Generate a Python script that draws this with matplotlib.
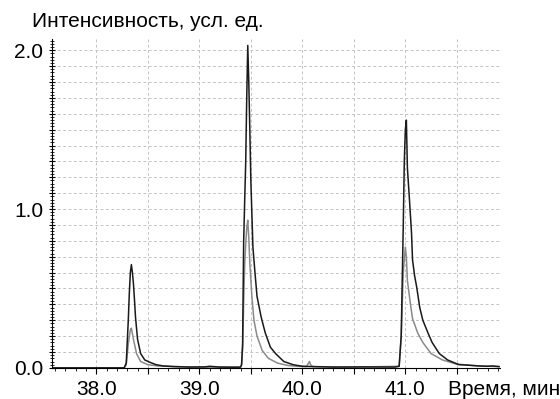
import numpy as np
import matplotlib
matplotlib.use("Agg")
import matplotlib.pyplot as plt
from matplotlib.ticker import MultipleLocator, FuncFormatter

plt.rcParams['font.family'] = ['Liberation Sans', 'DejaVu Sans']

# black trace
black_t = [37.57, 38.00, 38.27, 38.29, 38.31, 38.32, 38.33, 38.34, 38.35, 38.36,
           38.37, 38.38, 38.40, 38.43, 38.47, 38.52, 38.58, 38.65, 38.75, 38.90,
           39.05, 39.10, 39.20, 39.35, 39.40, 39.41, 39.42, 39.43, 39.44, 39.45,
           39.46, 39.47, 39.48, 39.49, 39.50, 39.51, 39.52, 39.54, 39.56, 39.60,
           39.64, 39.69, 39.74, 39.82, 39.91, 40.00, 40.10, 40.30, 40.60, 40.90,
           40.94, 40.96, 40.98, 40.99, 41.00, 41.01, 41.02, 41.04, 41.06, 41.07,
           41.09, 41.11, 41.14, 41.17, 41.22, 41.26, 41.33, 41.41, 41.52, 41.59,
           41.65, 41.72, 41.79, 41.85, 41.91]
black_y = [0.0, 0.0, 0.0, 0.03, 0.30, 0.47, 0.60, 0.65, 0.60, 0.53,
           0.43, 0.32, 0.18, 0.09, 0.05, 0.035, 0.02, 0.012, 0.008, 0.005,
           0.006, 0.01, 0.005, 0.004, 0.005, 0.02, 0.15, 0.79, 1.05, 1.29,
           1.70, 2.03, 1.80, 1.50, 1.18, 0.97, 0.76, 0.60, 0.45, 0.32,
           0.22, 0.13, 0.09, 0.04, 0.02, 0.01, 0.008, 0.005, 0.006, 0.005,
           0.01, 0.20, 0.90, 1.30, 1.50, 1.56, 1.26, 1.06, 0.85, 0.68,
           0.58, 0.51, 0.38, 0.30, 0.22, 0.16, 0.09, 0.05, 0.02, 0.018,
           0.015, 0.012, 0.01, 0.012, 0.008]

# gray trace
gray_t = [37.57, 38.27, 38.29, 38.31, 38.33, 38.34, 38.36, 38.39, 38.43, 38.50,
          38.60, 38.80, 39.00, 39.40, 39.41, 39.42, 39.43, 39.44, 39.45, 39.46,
          39.47, 39.48, 39.49, 39.51, 39.53, 39.56, 39.61, 39.67, 39.76, 39.86,
          39.95, 40.04, 40.06, 40.07, 40.08, 40.10, 40.50, 40.94, 40.96, 40.98,
          41.00, 41.01, 41.02, 41.05, 41.07, 41.12, 41.17, 41.25, 41.36, 41.49,
          41.60, 41.72, 41.82, 41.91]
gray_y = [0.0, 0.0, 0.02, 0.15, 0.24, 0.25, 0.18, 0.09, 0.04, 0.02,
          0.012, 0.008, 0.005, 0.005, 0.02, 0.12, 0.40, 0.65, 0.78, 0.88,
          0.93, 0.82, 0.66, 0.45, 0.30, 0.20, 0.11, 0.06, 0.03, 0.015,
          0.01, 0.008, 0.03, 0.04, 0.02, 0.008, 0.005, 0.01, 0.20, 0.60,
          0.76, 0.70, 0.55, 0.40, 0.31, 0.22, 0.16, 0.09, 0.05, 0.025,
          0.018, 0.012, 0.01, 0.008]

fig = plt.figure(figsize=(5.6, 3.99), dpi=100)
ax = fig.add_axes([0.093, 0.078, 0.80, 0.824])

ax.plot(gray_t, gray_y, color='#8a8a8a', lw=1.1)
ax.plot(black_t, black_y, color='#1a1a1a', lw=1.1)

ax.set_xlim(37.57, 41.92)
ax.set_ylim(0, 2.07)

ax.spines['top'].set_visible(False)
ax.spines['right'].set_visible(False)

ax.xaxis.set_major_locator(MultipleLocator(0.5))
ax.xaxis.set_minor_locator(MultipleLocator(0.1))
ax.yaxis.set_major_locator(MultipleLocator(0.1))
ax.yaxis.set_minor_locator(MultipleLocator(0.02))

def whole_only(v, pos):
    return "%.1f" % v if abs(v - round(v)) < 1e-6 else ""

ax.xaxis.set_major_formatter(FuncFormatter(whole_only))
ax.yaxis.set_major_formatter(FuncFormatter(whole_only))

ax.tick_params(axis='x', which='major', direction='out', length=4, labelsize=15, pad=5)
ax.tick_params(axis='x', which='minor', direction='out', length=2)
ax.tick_params(axis='y', which='major', direction='inout', length=5, labelsize=15, pad=4)
ax.tick_params(axis='y', which='minor', direction='inout', length=2.5)

ax.grid(True, which='major', color='#c4c4c4', linestyle=(0, (3, 2.5)), lw=0.7)
ax.set_axisbelow(True)

fig.text(0.057, 0.933, "Интенсивность, усл. ед.", fontsize=15, ha='left', va='baseline')
fig.text(1.0, 0.01, "Время, мин", fontsize=15, ha='right', va='baseline')

fig.savefig("out.png", dpi=100)
